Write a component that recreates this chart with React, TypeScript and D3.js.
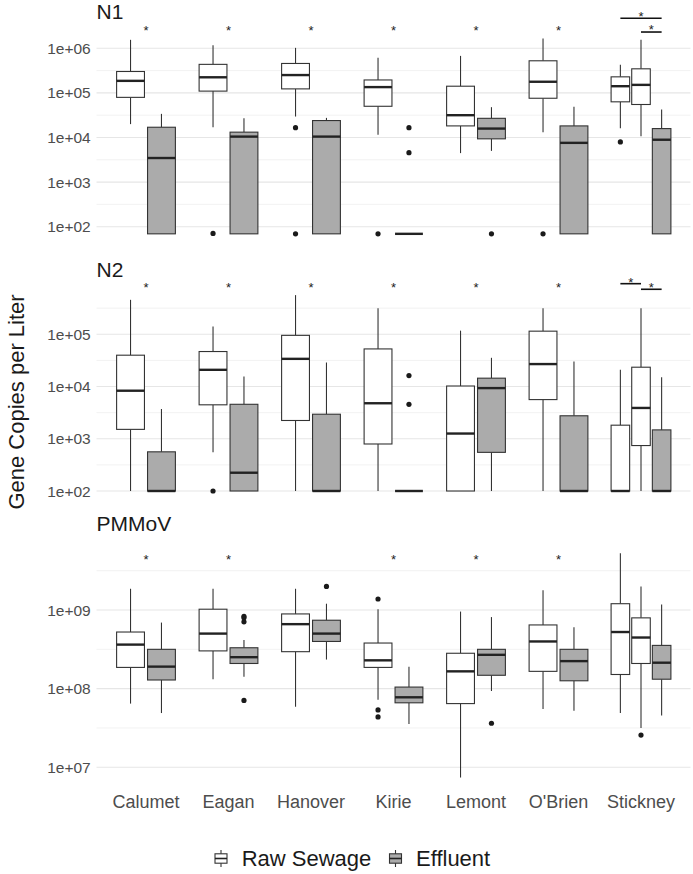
import React from "react";
import * as d3 from "d3";

// ---------- data (values are log10 of gene copies per liter) ----------
const sites = ["Calumet", "Eagan", "Hanover", "Kirie", "Lemont", "O'Brien", "Stickney"];
const groupNames = ["Raw Sewage", "Effluent"];

// box stats: [lower whisker, Q1, median, Q3, upper whisker]
const n1Raw = [
  [4.30, 4.90, 5.27, 5.48, 6.19],
  [4.23, 5.04, 5.35, 5.64, 6.07],
  [4.47, 5.09, 5.40, 5.66, 6.01],
  [4.06, 4.70, 5.13, 5.29, 5.79],
  [3.65, 4.26, 4.50, 5.15, 5.83],
  [4.12, 4.88, 5.25, 5.72, 6.22],
  [4.21, 4.80, 5.15, 5.36, 5.63],
];
const n1Raw2 = [4.03, 4.74, 5.18, 5.54, 6.19];
const n1Eff = [
  [1.84, 1.84, 3.54, 4.23, 4.53],
  [1.84, 1.84, 4.02, 4.12, 4.43],
  [1.84, 1.84, 4.02, 4.38, 4.44],
  [1.84, 1.84, 1.84, 1.84, 1.84],
  [3.70, 3.97, 4.20, 4.43, 4.68],
  [1.84, 1.84, 3.88, 4.26, 4.69],
  [1.84, 1.84, 3.95, 4.20, 4.63],
];
const n1RawOut = [[], [1.85], [4.22, 1.84], [1.84], [], [1.84], [3.90]];
const n1Raw2Out: number[] = [];
const n1EffOut = [[], [], [], [4.22, 3.66], [1.84], [], []];
const n1Stars = [6.47, 6.47, 6.47, 6.47, 6.47, 6.47, null];
const n1Brackets = [
  { from: -1, to: 1, level: 6.673, star: 6.785 },
  { from: 0, to: 1, level: 6.365, star: 6.484 },
];

const n2Raw = [
  [2.0, 3.18, 3.92, 4.60, 5.66],
  [2.74, 3.65, 4.32, 4.67, 5.15],
  [2.0, 3.35, 4.53, 4.98, 5.75],
  [2.0, 2.90, 3.68, 4.72, 5.50],
  [2.0, 2.0, 3.10, 4.01, 5.07],
  [2.0, 3.75, 4.43, 5.06, 5.50],
  [2.0, 2.0, 2.0, 3.26, 4.32],
];
const n2Raw2 = [2.0, 2.87, 3.59, 4.37, 5.50];
const n2Eff = [
  [2.0, 2.0, 2.0, 2.75, 3.57],
  [2.0, 2.0, 2.35, 3.66, 4.19],
  [2.0, 2.0, 2.0, 3.47, 4.46],
  [2.0, 2.0, 2.0, 2.0, 2.0],
  [2.0, 2.74, 3.97, 4.16, 4.55],
  [2.0, 2.0, 2.0, 3.44, 4.48],
  [2.0, 2.0, 2.0, 3.17, 4.18],
];
const n2RawOut = [[], [2.0], [], [], [], [], []];
const n2Raw2Out: number[] = [];
const n2EffOut = [[], [], [], [4.21, 3.66], [], [], []];
const n2Stars = [5.944, 5.944, 5.944, 5.944, 5.944, 5.944, null];
const n2Brackets = [
  { from: -1, to: 0, level: 5.969, star: 6.054 },
  { from: 0, to: 1, level: 5.862, star: 5.958 },
];

const pmRaw = [
  [7.81, 8.27, 8.56, 8.72, 9.27],
  [8.12, 8.48, 8.70, 9.01, 9.27],
  [7.77, 8.47, 8.82, 8.95, 9.27],
  [7.86, 8.27, 8.36, 8.58, 9.01],
  [6.87, 7.81, 8.22, 8.45, 8.98],
  [7.74, 8.22, 8.60, 8.81, 9.25],
  [7.69, 8.18, 8.72, 9.08, 9.72],
];
const pmRaw2 = [7.50, 8.32, 8.65, 8.90, 9.30];
const pmEff = [
  [7.69, 8.11, 8.28, 8.50, 8.84],
  [8.15, 8.32, 8.40, 8.52, 8.62],
  [8.37, 8.60, 8.70, 8.87, 9.08],
  [7.55, 7.82, 7.89, 8.02, 8.28],
  [7.97, 8.17, 8.43, 8.50, 8.91],
  [7.72, 8.10, 8.35, 8.50, 8.78],
  [7.66, 8.12, 8.33, 8.55, 9.07],
];
const pmRawOut = [[], [], [], [9.14, 7.73, 7.64], [], [], []];
const pmRaw2Out = [7.41];
const pmEffOut = [[], [8.92, 8.90, 8.85, 7.85], [9.30], [], [7.56], [], []];
const pmStars = [9.686, 9.686, null, 9.686, 9.686, 9.686, null];
const pmBrackets: { from: number; to: number; level: number; star: number }[] = [];

// ---------- layout ----------
const W = 693;
const H = 874;
const FONT = "'Liberation Sans', Arial, Helvetica, sans-serif";
const GREY_FILL = "#ababab";
const STROKE = "#333333";

const panels = [
  {
    title: "N1", titleY: 18.5, domain: [1e2, 1e6], range: [226.7, 48.3],
    majors: [2, 3, 4, 5, 6], minors: [2.5, 3.5, 4.5, 5.5],
    raw: n1Raw, raw2: n1Raw2, eff: n1Eff, rawOut: n1RawOut, raw2Out: n1Raw2Out, effOut: n1EffOut,
    stars: n1Stars, brackets: n1Brackets,
  },
  {
    title: "N2", titleY: 276.5, domain: [1e2, 1e5], range: [491, 334.3],
    majors: [2, 3, 4, 5], minors: [2.5, 3.5, 4.5, 5.5],
    raw: n2Raw, raw2: n2Raw2, eff: n2Eff, rawOut: n2RawOut, raw2Out: n2Raw2Out, effOut: n2EffOut,
    stars: n2Stars, brackets: n2Brackets,
  },
  {
    title: "PMMoV", titleY: 531, domain: [1e7, 1e9], range: [767.3, 610],
    majors: [7, 8, 9], minors: [7.5, 8.5, 9.5],
    raw: pmRaw, raw2: pmRaw2, eff: pmEff, rawOut: pmRawOut, raw2Out: pmRaw2Out, effOut: pmEffOut,
    stars: pmStars, brackets: pmBrackets,
  },
];

const x = d3.scaleLinear().domain([0.4, 7.6]).range([96.5, 690.5]);
const unit = x(2) - x(1);

function fmt(k: number) {
  return `1e+${String(k).padStart(2, "0")}`;
}

type Box = { pos: number; width: number; stats: number[]; out: number[]; fill: string };

function Boxplot({ b, y }: { b: Box; y: (v: number) => number }) {
  const cx = x(b.pos);
  const hw = (b.width * unit) / 2;
  const [lo, q1, med, q3, hi] = b.stats.map((v) => y(Math.pow(10, v)));
  return (
    <g>
      <line x1={cx} x2={cx} y1={q3} y2={hi} stroke={STROKE} strokeWidth={1.1} />
      <line x1={cx} x2={cx} y1={q1} y2={lo} stroke={STROKE} strokeWidth={1.1} />
      <rect x={cx - hw} y={q3} width={hw * 2} height={Math.max(0, q1 - q3)} fill={b.fill} stroke={STROKE} strokeWidth={1.1} />
      <line x1={cx - hw} x2={cx + hw} y1={med} y2={med} stroke="#222" strokeWidth={2.4} />
      {b.out.map((o, i) => (
        <circle key={i} cx={cx} cy={y(Math.pow(10, o))} r={2.6} fill="#1a1a1a" />
      ))}
    </g>
  );
}

function Panel({ p }: { p: (typeof panels)[number] }) {
  const y = d3.scaleLog().domain(p.domain).range(p.range);
  const Y = (v: number) => y(v);
  const boxes: Box[] = [];
  sites.forEach((s, i) => {
    const c = i + 1;
    if (s === "Stickney") {
      boxes.push({ pos: c - 0.25, width: 0.225, stats: p.raw[i], out: p.rawOut[i], fill: "#fff" });
      boxes.push({ pos: c, width: 0.225, stats: p.raw2, out: p.raw2Out, fill: "#fff" });
      boxes.push({ pos: c + 0.25, width: 0.225, stats: p.eff[i], out: p.effOut[i], fill: GREY_FILL });
    } else {
      boxes.push({ pos: c - 0.1875, width: 0.3375, stats: p.raw[i], out: p.rawOut[i], fill: "#fff" });
      boxes.push({ pos: c + 0.1875, width: 0.3375, stats: p.eff[i], out: p.effOut[i], fill: GREY_FILL });
    }
  });
  const [x0, x1] = x.range();
  const stickney = sites.length;
  return (
    <g>
      {p.minors.map((m) => (
        <line key={"m" + m} x1={x0} x2={x1} y1={y(Math.pow(10, m))} y2={y(Math.pow(10, m))} stroke="#f0f0f0" strokeWidth={0.9} />
      ))}
      {p.majors.map((m) => (
        <line key={"M" + m} x1={x0} x2={x1} y1={y(Math.pow(10, m))} y2={y(Math.pow(10, m))} stroke="#e6e6e6" strokeWidth={1.1} />
      ))}
      {p.majors.map((m) => (
        <text key={"t" + m} x={90.7} y={y(Math.pow(10, m))} dy="0.36em" textAnchor="end" fontSize={15.5} fill="#4d4d4d" fontFamily={FONT}>
          {fmt(m)}
        </text>
      ))}
      <text x={96.5} y={p.titleY} fontSize={21} fill="#1a1a1a" fontFamily={FONT}>{p.title}</text>
      {boxes.map((b, i) => (
        <Boxplot key={i} b={b} y={Y} />
      ))}
      {p.stars.map((s, i) =>
        s == null ? null : (
          <text key={"s" + i} x={x(i + 1)} y={y(Math.pow(10, s)) + 7.5} textAnchor="middle" fontSize={13} fill="#222" fontFamily={FONT}>*</text>
        )
      )}
      {p.brackets.map((br, i) => {
        const xa = x(stickney + br.from * 0.25);
        const xb = x(stickney + br.to * 0.25);
        const ly = y(Math.pow(10, br.level));
        return (
          <g key={"b" + i}>
            <line x1={xa} x2={xb} y1={ly} y2={ly} stroke="#111" strokeWidth={1.6} />
            <text x={(xa + xb) / 2} y={y(Math.pow(10, br.star)) + 7.5} textAnchor="middle" fontSize={13} fill="#222" fontFamily={FONT}>*</text>
          </g>
        );
      })}
    </g>
  );
}

function LegendKey({ cx, cy, fill }: { cx: number; cy: number; fill: string }) {
  return (
    <g>
      <line x1={cx} x2={cx} y1={cy - 8.5} y2={cy + 8.5} stroke={STROKE} strokeWidth={1.1} />
      <rect x={cx - 6} y={cy - 4.7} width={12} height={9.4} fill={fill} stroke={STROKE} strokeWidth={1.1} />
      <line x1={cx - 6} x2={cx + 6} y1={cy} y2={cy} stroke="#222" strokeWidth={1.6} />
    </g>
  );
}

export default function App() {
  return (
    <svg width={W} height={H} style={{ position: "absolute", left: 0, top: 0, background: "#fff" }}>
      <rect width={W} height={H} fill="#fff" />
      {panels.map((p) => (
        <Panel key={p.title} p={p} />
      ))}
      {sites.map((s, i) => (
        <text key={s} x={x(i + 1)} y={808} textAnchor="middle" fontSize={18} fill="#4d4d4d" fontFamily={FONT}>
          {s}
        </text>
      ))}
      <text transform="translate(24,402) rotate(-90)" textAnchor="middle" fontSize={22} fill="#1a1a1a" fontFamily={FONT}>
        Gene Copies per Liter
      </text>
      <LegendKey cx={221} cy={858.5} fill="#fff" />
      <text x={241.7} y={866} fontSize={22} fill="#1a1a1a" fontFamily={FONT}>{groupNames[0]}</text>
      <LegendKey cx={395.5} cy={858.5} fill={GREY_FILL} />
      <text x={416} y={866} fontSize={22} fill="#1a1a1a" fontFamily={FONT}>{groupNames[1]}</text>
    </svg>
  );
}
